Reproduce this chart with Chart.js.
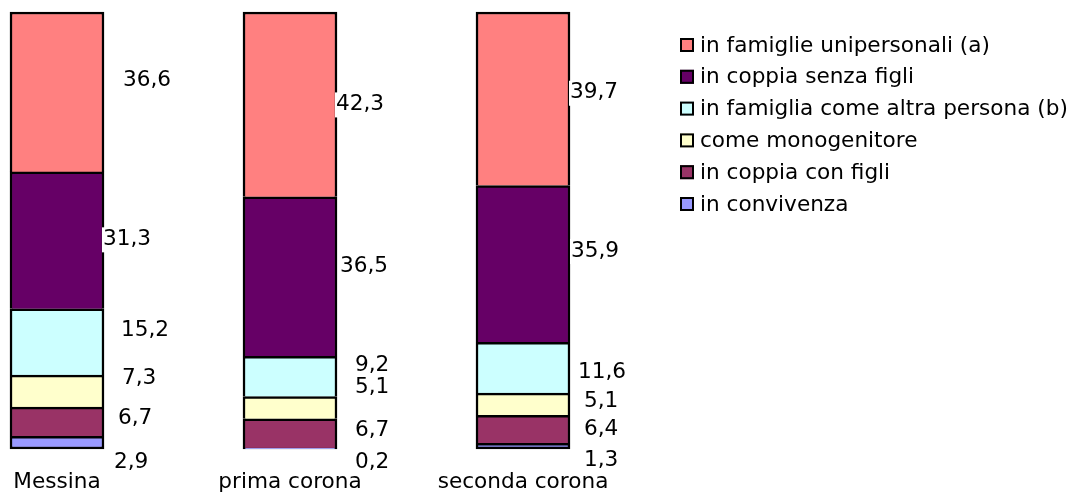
<!DOCTYPE html>
<html>
<head>
<meta charset="utf-8">
<script src="https://cdn.jsdelivr.net/npm/chart.js@4/dist/chart.umd.min.js"></script>
<style>
  html, body { margin: 0; padding: 0; background: #ffffff; overflow: hidden; }
  #wrap { width: 1071px; height: 492px; }
</style>
</head>
<body>
<div id="wrap"><canvas id="chart" width="1071" height="492"></canvas></div>
<script>
// Areas (categories)
const areas = ['Messina', 'prima corona', 'seconda corona'];

// Shares in % by living arrangement, one value per area (stacked bottom to top)
const inConvivenza      = [2.9, 0.2, 1.3];
const coppiaConFigli    = [6.7, 6.7, 6.4];
const comeMonogenitore  = [7.3, 5.1, 5.1];
const altraPersona      = [15.2, 9.2, 11.6];
const coppiaSenzaFigli  = [31.3, 36.5, 35.9];
const unipersonali      = [36.6, 42.3, 39.7];

const seriesNames = [
  'in convivenza',
  'in coppia con figli',
  'come monogenitore',
  'in famiglia come altra persona (b)',
  'in coppia senza figli',
  'in famiglie unipersonali (a)'
];
const seriesColors = ['#9999FF', '#993366', '#FFFFCC', '#CCFFFF', '#660066', '#FF8080'];

// Label placement tweaks: horizontal shift from the bar's right edge and
// vertical shift from the segment middle, per series (rows) and area (columns)
const labelShiftX = [
  [10, 18, 14],
  [14, 18, 14],
  [18, 18, 14],
  [17, 18, 8],
  [-1, 3, 1],
  [19, -1, 0]
];
const labelShiftY = [
  [20, 14, 14],
  [-3, -3, 0],
  [-13, -20, -3],
  [-12, -11.5, 5],
  [-1, -10, -13],
  [-12, 0, -6]
];

const FONT = '21.6px "DejaVu Sans", Verdana, sans-serif';

const seriesValues = [inConvivenza, coppiaConFigli, comeMonogenitore, altraPersona, coppiaSenzaFigli, unipersonali];

const datasets = seriesValues.map((vals, i) => ({
  label: seriesNames[i],
  data: vals,
  backgroundColor: seriesColors[i],
  borderColor: '#000000',
  borderWidth: 2.5,
  borderSkipped: i === 0 ? false : 'start',
  barThickness: 94,
  clip: false
}));

const fmt = v => v.toFixed(1).replace('.', ',');

// Value labels beside each segment, on a white patch
const valueLabels = {
  id: 'valueLabels',
  afterDatasetsDraw(chart) {
    const ctx = chart.ctx;
    ctx.save();
    ctx.font = FONT;
    ctx.textBaseline = 'middle';
    ctx.textAlign = 'left';
    const items = [];
    chart.data.datasets.forEach((ds, di) => {
      const meta = chart.getDatasetMeta(di);
      meta.data.forEach((bar, idx) => {
        const text = fmt(ds.data[idx]);
        items.push({
          text,
          x: bar.x + bar.width / 2 + labelShiftX[di][idx],
          y: (bar.y + bar.base) / 2 + labelShiftY[di][idx],
          w: ctx.measureText(text).width
        });
      });
    });
    ctx.fillStyle = '#ffffff';
    items.forEach(it => ctx.fillRect(it.x - 1, it.y - 12, it.w + 3, 25));
    ctx.fillStyle = '#000000';
    items.forEach(it => ctx.fillText(it.text, it.x, it.y));
    ctx.restore();
  }
};

// Area names under the bars, placed by the category scale
const areaNames = {
  id: 'areaNames',
  afterDraw(chart) {
    const ctx = chart.ctx;
    const xs = chart.scales.x;
    ctx.save();
    ctx.font = FONT;
    ctx.textBaseline = 'alphabetic';
    ctx.textAlign = 'center';
    ctx.fillStyle = '#000000';
    chart.data.labels.forEach((name, i) => {
      ctx.fillText(name, xs.getPixelForValue(i), chart.chartArea.bottom + 39);
    });
    ctx.restore();
  }
};

// Legend column on the right, top series first
const sideLegend = {
  id: 'sideLegend',
  afterDraw(chart) {
    const ctx = chart.ctx;
    ctx.save();
    ctx.font = FONT;
    ctx.textBaseline = 'middle';
    ctx.textAlign = 'left';
    const n = chart.data.datasets.length;
    for (let k = 0; k < n; k++) {
      const ds = chart.data.datasets[n - 1 - k];
      const cy = 45 + k * 31.8;
      ctx.fillStyle = ds.backgroundColor;
      ctx.fillRect(680, cy - 7, 14, 14);
      ctx.strokeStyle = '#000000';
      ctx.lineWidth = 2;
      ctx.strokeRect(681, cy - 6, 12, 12);
      ctx.fillStyle = '#000000';
      ctx.fillText(ds.label, 700, cy + 1);
    }
    ctx.restore();
  }
};

new Chart(document.getElementById('chart'), {
  type: 'bar',
  data: { labels: areas, datasets },
  options: {
    responsive: false,
    animation: false,
    devicePixelRatio: 1,
    layout: { padding: { left: 57, right: 548, top: 12, bottom: 43 } },
    plugins: { legend: { display: false }, tooltip: { enabled: false } },
    scales: {
      x: {
        stacked: true,
        offset: false,
        display: false
      },
      y: {
        stacked: true,
        display: false,
        min: 0,
        max: 100
      }
    }
  },
  plugins: [valueLabels, areaNames, sideLegend]
});
</script>
</body>
</html>
